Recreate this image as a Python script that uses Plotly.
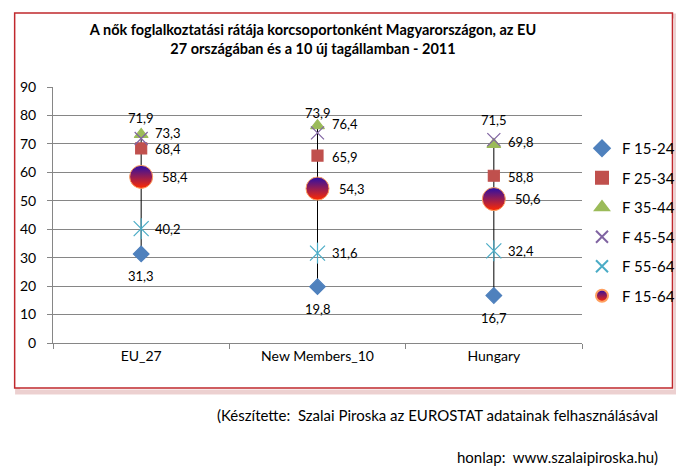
import plotly.graph_objects as go

categories = ["EU_27", "New Members_10", "Hungary"]
series_names = ["F 15-24", "F 25-34", "F 35-44", "F 45-54", "F 55-64", "F 15-64"]
f15_24 = [31.3, 19.8, 16.7]
f25_34 = [68.4, 65.9, 58.8]
f35_44 = [73.3, 76.4, 69.8]
f45_54 = [71.9, 73.9, 71.5]
f55_64 = [40.2, 31.6, 32.4]
f15_64 = [58.4, 54.3, 50.6]
y_ticks = [0, 10, 20, 30, 40, 50, 60, 70, 80, 90]

series_values = [f15_24, f25_34, f35_44, f45_54, f55_64, f15_64]

FONT = "Lato"
L, R, T, B = 45, 101, 79, 139
W, H = 684, 474
PW, PH = W - L - R, H - T - B

def px_x(p):
    return (p - L) / PW

def px_y(p):
    return (H - B - p) / PH

fig = go.Figure()

# high-low lines per category
for i, c in enumerate(categories):
    vals = [s[i] for s in series_values]
    fig.add_trace(go.Scatter(x=[c, c], y=[min(vals), max(vals)], mode="lines",
                             line=dict(color="black", width=1), showlegend=False,
                             hoverinfo="skip"))

styles = {
    "F 15-24": dict(symbol="diamond", size=12, color="#4F81BD"),
    "F 25-34": dict(symbol="square", size=11, color="#C0504D"),
    "F 35-44": dict(symbol="triangle-up", size=12, color="#9BBB59"),
    "F 45-54": dict(symbol="x-thin-open", size=13, color="#8064A2"),
    "F 55-64": dict(symbol="x-thin-open", size=15, color="#4BACC6"),
}

for name, vals in zip(series_names, series_values):
    if name == "F 15-64":
        fig.add_trace(go.Scatter(
            x=categories, y=vals, mode="markers", name=name, legendgroup=name,
            marker=dict(symbol="circle", size=23, color="#2A0FA8",
                        gradient=dict(type="vertical", color="#FF2A00"),
                        line=dict(color="#FFA060", width=1))))
    else:
        st = styles[name]
        fig.add_trace(go.Scatter(
            x=categories, y=vals, mode="markers", name=name, legendgroup=name,
            marker=dict(symbol=st["symbol"], size=st["size"], color=st["color"],
                        line=dict(color=st["color"], width=1.2))))
        if name == "F 55-64":
            fig.add_trace(go.Scatter(
                x=categories, y=vals, mode="markers", legendgroup=name, showlegend=False,
                marker=dict(symbol="line-ns-open", size=15, color=st["color"],
                            line=dict(color=st["color"], width=1.2))))

# data labels
label_pos = {
    "F 15-24": dict(xshift=0, yshift=-22, xanchor="center"),
    "F 25-34": dict(xshift=12, yshift=-1, xanchor="left"),
    "F 35-44": dict(xshift=12, yshift=2, xanchor="left"),
    "F 45-54": dict(xshift=0, yshift=20, xanchor="center"),
    "F 55-64": dict(xshift=12, yshift=0, xanchor="left"),
    "F 15-64": dict(xshift=19, yshift=0, xanchor="left"),
}
annotations = []
for name, vals in zip(series_names, series_values):
    p = label_pos[name]
    for c, v in zip(categories, vals):
        annotations.append(dict(x=c, y=v, xref="x", yref="y",
                                text=f"{v:.1f}".replace(".", ","), showarrow=False,
                                xshift=p["xshift"], yshift=p["yshift"],
                                xanchor=p["xanchor"], yanchor="middle",
                                font=dict(family=FONT, size=13, color="black")))

annotations.append(dict(x=px_x(662), y=px_y(407), xref="paper", yref="paper",
                        text="(Készítette:  Szalai Piroska az EUROSTAT adatainak felhasználásával",
                        showarrow=False, xanchor="right", yanchor="middle",
                        font=dict(family=FONT, size=15, color="black")))
annotations.append(dict(x=px_x(662), y=px_y(449), xref="paper", yref="paper",
                        text="honlap:  www.szalaipiroska.hu)",
                        showarrow=False, xanchor="right", yanchor="middle",
                        font=dict(family=FONT, size=15, color="black")))

shapes = [
    # shadow
    dict(type="rect", xref="paper", yref="paper", layer="below",
         x0=px_x(9), x1=px_x(679), y0=px_y(384), y1=px_y(8),
         line=dict(color="rgba(200,120,120,0.35)", width=5), fillcolor="rgba(0,0,0,0)"),
    dict(type="rect", xref="paper", yref="paper", layer="below",
         x0=px_x(6), x1=px_x(675), y0=px_y(380), y1=px_y(5),
         line=dict(color="#C0282D", width=1.5), fillcolor="white"),
]

fig.update_layout(
    width=W, height=H,
    margin=dict(l=L, r=R, t=T, b=B),
    paper_bgcolor="white", plot_bgcolor="rgba(0,0,0,0)",
    title=dict(text="<b>A nők foglalkoztatási rátája korcsoportonként Magyarországon, az EU<br>27 országában és a 10 új tagállamban - 2011</b>",
               x=305 / W, xanchor="center", y=1 - 27 / H, yanchor="middle",
               font=dict(family=FONT, size=14.5, color="black")),
    font=dict(family=FONT, size=14, color="black"),
    legend=dict(x=px_x(583), y=px_y(214), xanchor="left", yanchor="middle",
                traceorder="grouped", tracegroupgap=7, itemsizing="constant",
                font=dict(family=FONT, size=15, color="black"),
                bgcolor="rgba(0,0,0,0)", itemwidth=30),
    xaxis=dict(range=[-0.5, 2.5], showgrid=False, showline=True, linecolor="#868686",
               linewidth=1, ticks="outside", tickson="boundaries", ticklen=5,
               tickcolor="#868686", tickfont=dict(family=FONT, size=14), zeroline=False),
    yaxis=dict(range=[0, 90], tickvals=y_ticks, showgrid=True, gridcolor="#868686",
               gridwidth=1, showline=True, linecolor="#868686", linewidth=1,
               ticks="outside", ticklen=5, tickcolor="#868686", ticklabelstandoff=8,
               tickfont=dict(family=FONT, size=14), zeroline=False),
    annotations=annotations,
    shapes=shapes,
)

fig.write_html("out.html")
